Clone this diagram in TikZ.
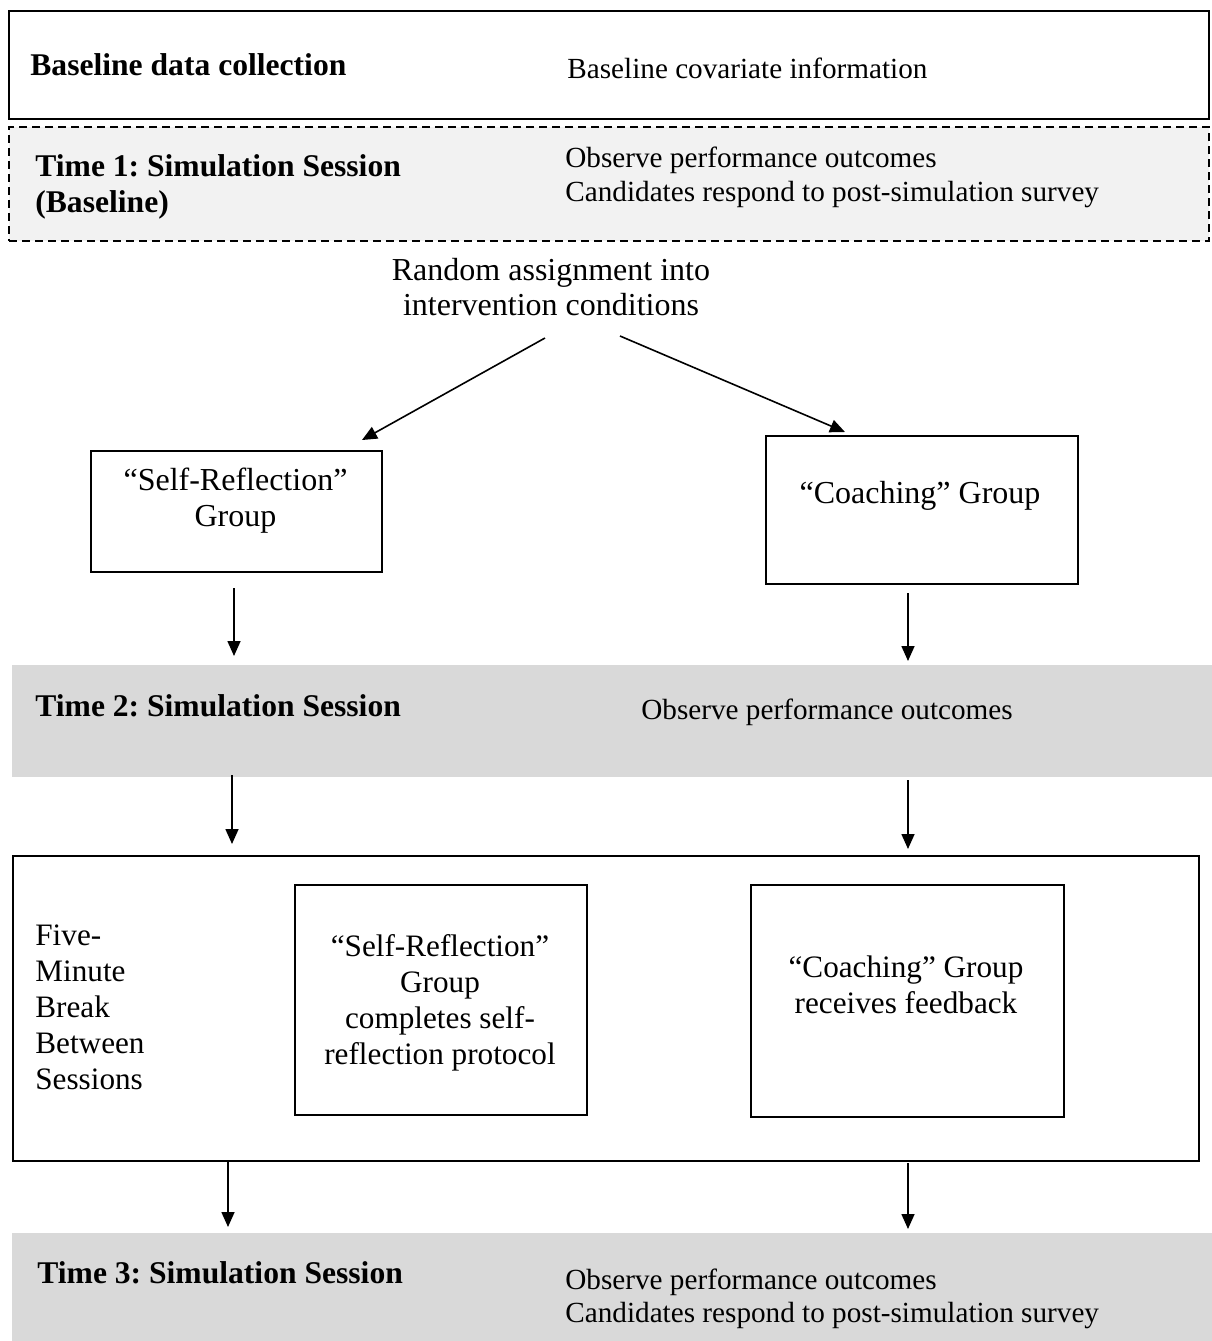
\documentclass[tikz,border=0pt]{standalone}
\usepackage{fontspec}
\setmainfont{Liberation Serif}
\usetikzlibrary{arrows.meta}
\definecolor{lightgrey}{HTML}{F2F2F2}
\definecolor{midgrey}{HTML}{D9D9D9}
\newcommand{\fs}{\fontsize{14.6}{16.5}\selectfont}
\newcommand{\fsl}{\fontsize{16}{18}\selectfont}
\newcommand{\fsm}{\fontsize{15.6}{18}\selectfont}
\newcommand{\bfs}{\fontsize{15.8}{17.5}\selectfont\bfseries}
\frenchspacing
\begin{document}
\begin{tikzpicture}[x=0.5pt,y=-0.5pt,
  box/.style={draw, line width=1pt, anchor=north west, inner sep=0pt},
  dbox/.style={draw, line width=1pt, dash pattern=on 4pt off 2.5pt, fill=lightgrey, anchor=north west, inner sep=0pt},
  gbox/.style={fill=midgrey, anchor=north west, inner sep=0pt},
  lbl/.style={anchor=base west, inner sep=0pt, font=\fs},
  mlbl/.style={anchor=base west, inner sep=0pt, font=\fsm},
  blbl/.style={anchor=base west, inner sep=0pt, font=\bfs},
  clbl/.style={anchor=base, inner sep=0pt, font=\fsl},
  cmlbl/.style={anchor=base, inner sep=0pt, font=\fsm},
  arr/.style={-{Triangle[length=7.5pt,width=6.5pt]}, line width=0.8pt}]
\useasboundingbox (0,0) rectangle (1212,1341);

% top boxes
\node[box, minimum width=600pt, minimum height=54pt] (base) at (8,10) {};
\node[dbox, minimum width=600pt, minimum height=57pt] (t1) at (8,126) {};
\node[blbl] (baseL) at (30,75) {Baseline data collection};
\node[lbl] (baseR) at (567,78) {Baseline covariate information};
\node[blbl] (t1La) at (35,176) {Time 1: Simulation Session};
\node[blbl] (t1Lb) at (35,212) {(Baseline)};
\node[lbl] (t1Ra) at (565,167) {Observe performance outcomes};
\node[lbl] (t1Rb) at (565,201) {Candidates respond to post-simulation survey};

% random assignment
\node[clbl] (ra1) at (551,280) {Random assignment into};
\node[clbl] (ra2) at (551,315) {intervention conditions};

% groups
\node[box, minimum width=145.5pt, minimum height=60.5pt] (sr) at (90,450) {};
\node[clbl] (sr1) at (235.5,490) {“Self-Reflection”};
\node[clbl] (sr2) at (235.5,526) {Group};
\node[box, minimum width=156pt, minimum height=74pt] (co) at (765,435) {};
\node[clbl] (co1) at (920,503) {“Coaching” Group};

\coordinate (a1s) at (545,338); \coordinate (a1e) at (362,440);
\coordinate (a2s) at (620,336); \coordinate (a2e) at (845,432);
\draw[arr] (a1s) -- (a1e);
\draw[arr] (a2s) -- (a2e);

% time 2
\node[gbox, minimum width=600pt, minimum height=56pt] (t2) at (12,665) {};
\node[blbl] (t2L) at (35,716) {Time 2: Simulation Session};
\node[lbl] (t2R) at (641,719) {Observe performance outcomes};

\coordinate (b1s) at (234,588); \coordinate (b1e) at (234,656);
\coordinate (b2s) at (908,593); \coordinate (b2e) at (908,661);
\draw[arr] (b1s) -- (b1e);
\draw[arr] (b2s) -- (b2e);

% break box
\node[box, line width=1.2pt, minimum width=593pt, minimum height=152.5pt] (brk) at (12,855) {};
\node[mlbl] (f1) at (35,945) {Five-};
\node[mlbl] (f2) at (35,981) {Minute};
\node[mlbl] (f3) at (35,1017) {Break};
\node[mlbl] (f4) at (35,1053) {Between};
\node[mlbl] (f5) at (35,1089) {Sessions};
\node[box, minimum width=146pt, minimum height=115pt] (isr) at (294,884) {};
\node[cmlbl] (isr1) at (440,956) {“Self-Reflection”};
\node[cmlbl] (isr2) at (440,992) {Group};
\node[cmlbl] (isr3) at (440,1028) {completes self-};
\node[cmlbl] (isr4) at (440,1064) {reflection protocol};
\node[box, minimum width=156.5pt, minimum height=116pt] (ico) at (750,884) {};
\node[cmlbl] (ico1) at (906,977) {“Coaching” Group};
\node[cmlbl] (ico2) at (906,1013) {receives feedback};

\coordinate (c1s) at (232,775); \coordinate (c1e) at (232,844);
\coordinate (c2s) at (908,780); \coordinate (c2e) at (908,849);
\draw[arr] (c1s) -- (c1e);
\draw[arr] (c2s) -- (c2e);

% time 3
\node[gbox, minimum width=600pt, minimum height=54pt] (t3) at (12,1233) {};
\node[blbl] (t3L) at (37,1283) {Time 3: Simulation Session};
\node[lbl] (t3Ra) at (565,1289) {Observe performance outcomes};
\node[lbl] (t3Rb) at (565,1322) {Candidates respond to post-simulation survey};

\coordinate (d1s) at (228,1162); \coordinate (d1e) at (228,1227);
\coordinate (d2s) at (908,1163); \coordinate (d2e) at (908,1229);
\draw[arr] (d1s) -- (d1e);
\draw[arr] (d2s) -- (d2e);
\end{tikzpicture}
\end{document}
